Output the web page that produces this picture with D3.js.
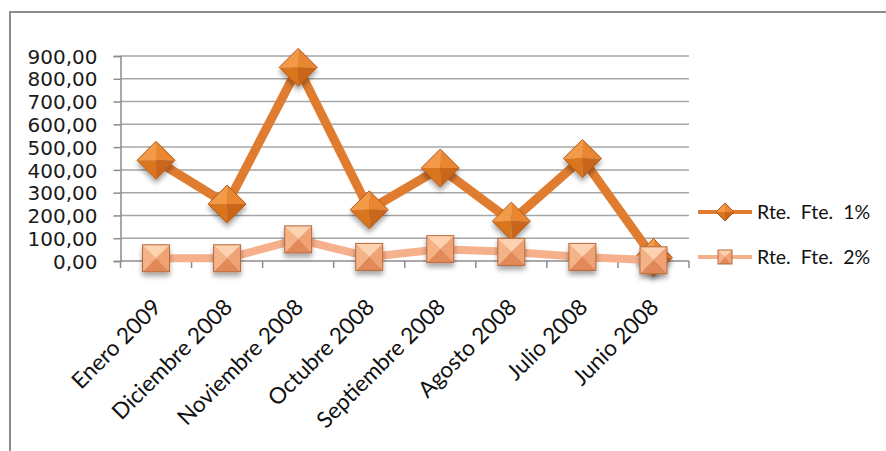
<!DOCTYPE html>
<html><head><meta charset="utf-8">
<script src="https://cdn.jsdelivr.net/npm/d3@7"></script>
<style>body{margin:0;background:#fff}svg{display:block}</style>
</head><body>
<script>
const categories = ["Enero 2009","Diciembre 2008","Noviembre 2008","Octubre 2008","Septiembre 2008","Agosto 2008","Julio 2008","Junio 2008"];
const serie1 = [442, 250, 850, 225, 408, 175, 450, 15];
const serie2 = [12, 12, 95, 18, 52, 40, 18, 3];
const seriesNames = ["Rte.  Fte.  1%", "Rte.  Fte.  2%"];
const yTicks = [0,100,200,300,400,500,600,700,800,900];

const W = 886, H = 451;
const svg = d3.select("body").append("svg").attr("width", W).attr("height", H);
const defs = svg.append("defs");
const f = defs.append("filter").attr("id","sh").attr("x","-50%").attr("y","-50%").attr("width","200%").attr("height","200%");
f.append("feDropShadow").attr("dx",0).attr("dy",4).attr("stdDeviation",2.5).attr("flood-color","#000").attr("flood-opacity",0.35);

// frame
svg.append("path").attr("d","M10,451V12H886").attr("fill","none").attr("stroke","#8c8c8c").attr("stroke-width",2);

const m = {l:120.5, t:56, r:689, b:261};
const x = d3.scaleBand().domain(categories).range([m.l, m.r]);
const y = d3.scaleLinear().domain([0,900]).range([m.b, m.t]);

// gridlines
svg.append("g").selectAll("line").data(yTicks.slice(1)).join("line")
  .attr("x1", m.l).attr("x2", m.r).attr("y1", d=>y(d)).attr("y2", d=>y(d))
  .attr("stroke","#a6a6a6").attr("stroke-width",1.5);

// y axis
const ya = svg.append("g").attr("transform",`translate(${m.l},0)`)
  .call(d3.axisLeft(y).tickValues(yTicks).tickSize(7).tickPadding(16)
    .tickFormat(d => d3.format(".2f")(d).replace(".", ",")));
ya.select(".domain").attr("stroke","#8c8c8c").attr("stroke-width",1.5);
ya.selectAll(".tick line").attr("stroke","#8c8c8c").attr("stroke-width",1.5);
ya.selectAll("text").attr("font-family","DejaVu Sans").attr("font-size",20).attr("fill","#1a1a1a").attr("dy","0.36em");

// x axis
const xa = svg.append("g").attr("transform",`translate(0,${m.b})`);
xa.append("line").attr("x1",m.l).attr("x2",m.r).attr("stroke","#8c8c8c").attr("stroke-width",1.5);
xa.selectAll("line.t").data(d3.range(categories.length+1)).join("line").attr("class","t")
  .attr("x1", i => m.l + i*x.step()).attr("x2", i => m.l + i*x.step())
  .attr("y1",0).attr("y2",7).attr("stroke","#8c8c8c").attr("stroke-width",1.5);
xa.selectAll("text").data(categories).join("text")
  .attr("transform", d => `translate(${x(d)+x.bandwidth()/2+1},${42}) rotate(-45)`)
  .attr("text-anchor","end").attr("dy","0.35em")
  .attr("font-family","Lato").attr("font-size",22.5).attr("fill","#111").text(d=>d);

const cx = d => x(d) + x.bandwidth()/2;
const line = d3.line().x((d,i)=>cx(categories[i])).y(d=>y(d));

function diamond(g, r){
  const faces = [
    {p:[[0,0],[-r,0],[0,-r]], c:"#F39A4A"},
    {p:[[0,0],[0,-r],[r,0]], c:"#E98632"},
    {p:[[0,0],[r,0],[0,r]], c:"#C9661C"},
    {p:[[0,0],[0,r],[-r,0]], c:"#D9741F"}
  ];
  g.selectAll("path.f").data(faces).join("path").attr("class","f")
    .attr("d", d=>"M"+d.p.map(q=>q.join(",")).join("L")+"Z").attr("fill", d=>d.c);
  g.append("path").attr("d",`M${-r},0L0,${-r}L${r},0L0,${r}Z`).attr("fill","none").attr("stroke","#B85A15").attr("stroke-width",1);
}
function square(g, s){
  const h = s/2;
  const faces = [
    {p:[[0,0],[-h,-h],[h,-h]], c:"#FCD2B0"},
    {p:[[0,0],[h,-h],[h,h]], c:"#F0A274"},
    {p:[[0,0],[h,h],[-h,h]], c:"#E2895A"},
    {p:[[0,0],[-h,h],[-h,-h]], c:"#F5B286"}
  ];
  g.selectAll("path.f").data(faces).join("path").attr("class","f")
    .attr("d", d=>"M"+d.p.map(q=>q.join(",")).join("L")+"Z").attr("fill", d=>d.c);
  g.append("rect").attr("x",-h).attr("y",-h).attr("width",s).attr("height",s).attr("fill","none").attr("stroke","#B8683A").attr("stroke-width",1);
}

// series 1
svg.append("path").datum(serie1).attr("d",line).attr("fill","none").attr("stroke","#DF7C30").attr("stroke-width",9).attr("stroke-linejoin","round");
serie1.forEach((v,i)=>{
  const g = svg.append("g").attr("transform",`translate(${cx(categories[i])},${y(v)})`).attr("filter","url(#sh)");
  diamond(g, 19);
});
// series 2
svg.append("path").datum(serie2).attr("d",line).attr("fill","none").attr("stroke","#F6B08C").attr("stroke-width",8).attr("stroke-linejoin","round");
serie2.forEach((v,i)=>{
  const g = svg.append("g").attr("transform",`translate(${cx(categories[i])},${y(v)})`).attr("filter","url(#sh)");
  square(g, 27);
});

// legend
const leg = [{n:seriesNames[0], c:"#DF7C30", y:212, t:"d"},{n:seriesNames[1], c:"#F6B08C", y:257, t:"s"}];
leg.forEach(L=>{
  const g = svg.append("g").attr("transform",`translate(0,${L.y})`);
  g.append("line").attr("x1",698).attr("x2",752).attr("stroke",L.c).attr("stroke-width",4);
  const mg = g.append("g").attr("transform","translate(725,0)");
  if (L.t==="d") diamond(mg, 9); else square(mg, 14);
  g.append("text").attr("x",757).attr("dy","0.35em").attr("font-family","Lato").attr("font-size",19.5).attr("fill","#111").attr("xml:space","preserve").style("white-space","pre").text(L.n);
});
</script>
</body></html>
